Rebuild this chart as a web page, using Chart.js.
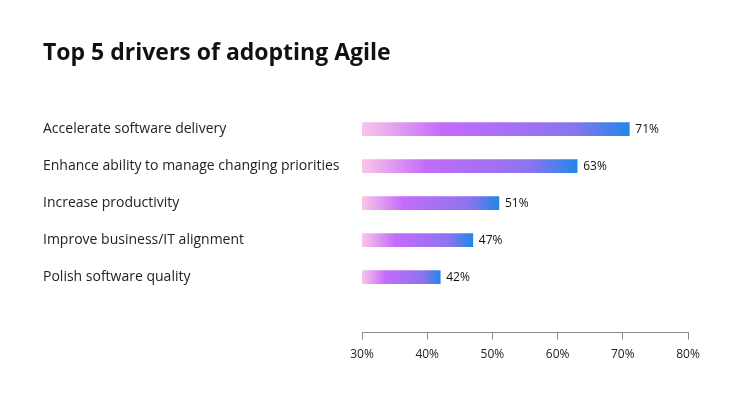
<!DOCTYPE html>
<html>
<head>
<meta charset="utf-8">
<script src="https://cdn.jsdelivr.net/npm/chart.js@4"></script>
<style>
html,body{margin:0;padding:0;background:#fff;}
#wrap{width:744px;height:408px;position:relative;}
</style>
</head>
<body>
<div id="wrap"><canvas id="c" width="744" height="408"></canvas></div>
<script>
const title = "Top 5 drivers of adopting Agile";
const categories = [
  "Accelerate software delivery",
  "Enhance ability to manage changing priorities",
  "Increase productivity",
  "Improve business/IT alignment",
  "Polish software quality"
];
const values = [71, 63, 51, 47, 42];
const xTicks = [30, 40, 50, 60, 70, 80];

const FONT = "'Open Sans', 'Noto Sans', sans-serif";

function barGradient(ctx) {
  const chart = ctx.chart;
  const xs = chart.scales && chart.scales.x;
  if (!xs || ctx.raw == null) return '#b06cf8';
  const x0 = xs.getPixelForValue(xTicks[0]);
  const x1 = xs.getPixelForValue(ctx.raw);
  if (!isFinite(x0) || !isFinite(x1) || x1 <= x0) return '#b06cf8';
  const g = chart.ctx.createLinearGradient(x0, 0, x1, 0);
  g.addColorStop(0, '#f9c6e6');
  g.addColorStop(0.3, '#c46bfc');
  g.addColorStop(0.78, '#8c74ee');
  g.addColorStop(1, '#2386e8');
  return g;
}

const valueLabels = {
  id: 'valueLabels',
  afterDatasetsDraw(chart) {
    const ctx = chart.ctx;
    const meta = chart.getDatasetMeta(0);
    ctx.save();
    ctx.font = "12px " + FONT;
    ctx.fillStyle = '#111';
    ctx.textAlign = 'left';
    ctx.textBaseline = 'middle';
    meta.data.forEach((el, i) => {
      const v = chart.data.datasets[0].data[i];
      if (v == null) return;
      ctx.fillText(v + '%', el.x + 6, el.y);
    });
    ctx.restore();
  }
};

new Chart(document.getElementById('c'), {
  type: 'bar',
  data: {
    labels: [...categories, ''],
    datasets: [{
      data: values,
      backgroundColor: barGradient,
      borderWidth: 0,
      barThickness: 13
    }]
  },
  options: {
    indexAxis: 'y',
    responsive: false,
    animation: false,
    layout: { padding: { left: 43, right: 56, top: 40, bottom: 38 } },
    plugins: {
      legend: { display: false },
      tooltip: { enabled: false },
      title: {
        display: true,
        text: title,
        align: 'start',
        color: '#111',
        font: { family: FONT, size: 23, weight: 'bold' },
        padding: { top: 0, bottom: 43 }
      }
    },
    scales: {
      y: {
        grid: { display: false },
        border: { display: false },
        ticks: {
          crossAlign: 'far',
          color: '#222',
          font: { family: FONT, size: 14 },
          padding: 0
        },
        afterFit(s) { s.width = 319; }
      },
      x: {
        min: 30,
        max: 80,
        afterBuildTicks(s) { s.ticks = xTicks.map(v => ({ value: v })); },
        grid: { drawOnChartArea: false, drawTicks: true, tickLength: 7, color: '#888', lineWidth: 1 },
        border: { display: true, color: '#888', width: 1 },
        ticks: {
          color: '#222',
          font: { family: FONT, size: 12 },
          padding: 8,
          callback: v => v + '%'
        }
      }
    }
  },
  plugins: [valueLabels]
});
</script>
</body>
</html>
